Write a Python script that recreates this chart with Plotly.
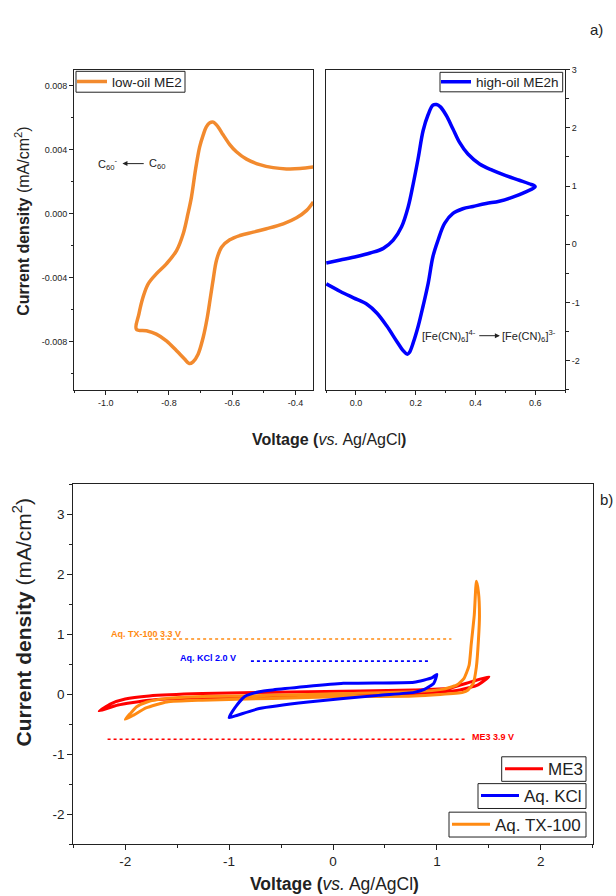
import plotly.graph_objects as go

FONT = "Liberation Sans, Arial, sans-serif"
INK = "#222222"

# ---------------- data: top-left, low-oil ME2 (C60) ----------------
me2_v = [-0.344, -0.386, -0.429, -0.471, -0.513, -0.555, -0.587, -0.608, -0.629, -0.645,
         -0.660, -0.671, -0.682, -0.692, -0.703, -0.713, -0.718, -0.729, -0.740, -0.755,
         -0.776, -0.808, -0.840, -0.866, -0.882, -0.895, -0.903,
         -0.871, -0.840, -0.808, -0.776, -0.750, -0.736, -0.724, -0.708, -0.692, -0.679,
         -0.669, -0.660, -0.650, -0.634, -0.608, -0.576, -0.534, -0.492, -0.439, -0.397,
         -0.365, -0.344]
me2_j = [0.00292, 0.00282, 0.00280, 0.00288, 0.00307, 0.00341, 0.00387, 0.00432, 0.00493, 0.00543,
         0.00572, 0.00568, 0.00543, 0.00491, 0.00418, 0.00313, 0.00251, 0.00104, 0.0, -0.00125,
         -0.00230, -0.00313, -0.00376, -0.00439, -0.00522, -0.00627, -0.00721,
         -0.00731, -0.00752, -0.00794, -0.00856, -0.00909, -0.00936, -0.00925, -0.00877, -0.00773, -0.00648,
         -0.00522, -0.00407, -0.00292, -0.00209, -0.00163, -0.00136, -0.00115, -0.00094, -0.00063, -0.00025,
         0.00021, 0.00073]

# ---------------- data: top-right, high-oil ME2h (ferricyanide) ----------------
me2h_v = [-0.099, -0.052, 0.003, 0.048, 0.092, 0.125, 0.153, 0.175, 0.192, 0.209, 0.225, 0.242,
          0.258, 0.270, 0.283, 0.303, 0.325, 0.347, 0.375, 0.414, 0.458, 0.502, 0.547, 0.580, 0.600,
          0.569, 0.525, 0.480, 0.436, 0.392, 0.358, 0.325, 0.297, 0.275, 0.258, 0.242, 0.225, 0.209,
          0.192, 0.179, 0.172, 0.159, 0.136, 0.103, 0.070, 0.037, -0.008, -0.052, -0.099]
me2h_j = [-0.32, -0.27, -0.21, -0.15, -0.07, 0.07, 0.30, 0.64, 1.04, 1.49, 1.95, 2.23,
          2.39, 2.40, 2.36, 2.21, 1.98, 1.75, 1.55, 1.38, 1.27, 1.18, 1.10, 1.04, 0.99,
          0.90, 0.81, 0.74, 0.70, 0.65, 0.61, 0.53, 0.36, 0.07, -0.21, -0.67, -1.06, -1.40,
          -1.69, -1.86, -1.89, -1.83, -1.66, -1.40, -1.18, -1.03, -0.92, -0.81, -0.68]

# ---------------- data: bottom, electrochemical windows ----------------
me3_v = [-2.25, -2.14, -2.0, -1.77, -1.26, -0.24, 0.78, 1.12, 1.32, 1.50,
         1.39, 1.22, 0.78, -0.24, -1.26, -1.77, -2.07, -2.25]
me3_j = [-0.28, -0.16, -0.08, -0.03, 0.01, 0.04, 0.07, 0.10, 0.20, 0.29,
         0.15, 0.07, 0.01, -0.03, -0.06, -0.10, -0.18, -0.28]

kcl_v = [-1.0, -0.95, -0.85, -0.71, -0.58, 0.10, 0.78, 0.95, 1.0,
         0.97, 0.88, 0.78, 0.44, -0.24, -0.71, -0.92, -1.0]
kcl_j = [-0.39, -0.24, -0.04, 0.04, 0.07, 0.18, 0.20, 0.27, 0.33,
         0.18, 0.08, 0.03, -0.02, -0.13, -0.24, -0.35, -0.39]

tx_v = [-2.0, -1.95, -1.89, -1.79, -1.60, -1.26, -0.58, 0.10, 0.78, 1.05, 1.19, 1.26, 1.31,
        1.33, 1.36, 1.38, 1.40, 1.41, 1.40, 1.38, 1.35, 1.30, 1.25, 0.78, 0.10, -0.58,
        -1.26, -1.60, -1.80, -1.92, -2.0]
tx_j = [-0.42, -0.32, -0.21, -0.13, -0.07, -0.04, -0.02, 0.01, 0.04, 0.08, 0.15, 0.26, 0.48,
        0.82, 1.32, 1.88, 1.70, 1.30, 0.90, 0.45, 0.18, 0.07, 0.03, -0.03, -0.04, -0.07,
        -0.10, -0.13, -0.23, -0.35, -0.42]

win_labels = ["Aq. TX-100 3.3 V", "Aq. KCl 2.0 V", "ME3 3.9 V"]
win_level = [0.92, 0.55, -0.75]
win_start = [-1.77, -0.79, -2.17]
win_end = [1.14, 0.94, 1.27]
win_label_x = [-2.16, -1.49, 1.32]
win_label_y = [1.01, 0.60, -0.72]

# tick labels
tl_x_vals = [-1.0, -0.8, -0.6, -0.4]
tl_x_text = ["-1.0", "-0.8", "-0.6", "-0.4"]
tl_y_vals = [0.008, 0.004, 0.0, -0.004, -0.008]
tl_y_text = ["0.008", "0.004", "0.000", "-0.004", "-0.008"]
tr_x_vals = [0.0, 0.2, 0.4, 0.6]
tr_x_text = ["0.0", "0.2", "0.4", "0.6"]
tr_y_vals = [3, 2, 1, 0, -1, -2]
tr_y_text = ["3", "2", "1", "0", "-1", "-2"]
b_x_vals = [-2, -1, 0, 1, 2]
b_x_text = ["-2", "-1", "0", "1", "2"]
b_y_vals = [3, 2, 1, 0, -1, -2]
b_y_text = ["3", "2", "1", "0", "-1", "-2"]

C_ORANGE_TOP = "#F28A2E"
C_ORANGE = "#FF8A12"
C_RED = "#FF0000"
C_BLUE = "#0000FF"

W, H = 616, 896


def px(x):
    return x / W


def py(y):
    return 1 - y / H


fig = go.Figure()

fig.add_trace(go.Scatter(x=me2_v, y=me2_j, mode="lines", name="low-oil ME2",
                         line=dict(color=C_ORANGE_TOP, width=3.5, shape="spline", smoothing=1.0),
                         xaxis="x", yaxis="y", legend="legend"))
fig.add_trace(go.Scatter(x=me2h_v, y=me2h_j, mode="lines", name="high-oil ME2h",
                         line=dict(color=C_BLUE, width=3.5, shape="spline", smoothing=1.0),
                         xaxis="x2", yaxis="y2", legend="legend2"))

fig.add_trace(go.Scatter(x=me3_v, y=me3_j, mode="lines", name="ME3",
                         line=dict(color=C_RED, width=3, shape="spline", smoothing=0.5),
                         xaxis="x3", yaxis="y3", legend="legend3"))
fig.add_trace(go.Scatter(x=tx_v, y=tx_j, mode="lines", name="Aq. TX-100",
                         line=dict(color=C_ORANGE, width=3, shape="spline", smoothing=0.5),
                         xaxis="x3", yaxis="y3", legend="legend5"))
fig.add_trace(go.Scatter(x=kcl_v, y=kcl_j, mode="lines", name="Aq. KCl",
                         line=dict(color=C_BLUE, width=3, shape="spline", smoothing=0.5),
                         xaxis="x3", yaxis="y3", legend="legend4"))

win_colors = [C_ORANGE, C_BLUE, C_RED]
for i in range(3):
    fig.add_trace(go.Scatter(x=[win_start[i], win_end[i]], y=[win_level[i], win_level[i]],
                             mode="lines", showlegend=False, hoverinfo="skip",
                             line=dict(color=win_colors[i], width=1.6, dash="dot"),
                             xaxis="x3", yaxis="y3"))


def axis(**kw):
    d = dict(showline=True, linecolor=INK, linewidth=1, mirror=True, ticks="outside",
             ticklen=4, tickwidth=1, tickcolor=INK, showgrid=False, zeroline=False,
             tickfont=dict(size=9, color=INK, family=FONT), tickmode="array")
    d.update(kw)
    return d


TOP_Y = [py(387), py(65)]
fig.update_layout(
    width=W, height=H, margin=dict(l=0, r=0, t=0, b=0),
    paper_bgcolor="white", plot_bgcolor="white",
    font=dict(family=FONT, color=INK),
    xaxis=axis(domain=[px(74), px(313)], range=[-1.1, -0.345], anchor="y",
               tickvals=tl_x_vals, ticktext=tl_x_text,
               minor=dict(ticks="outside", ticklen=2.5, tickcolor=INK, tick0=-1.1, dtick=0.1)),
    yaxis=axis(domain=TOP_Y, range=[-0.011, 0.009], anchor="x",
               tickvals=tl_y_vals, ticktext=tl_y_text,
               minor=dict(ticks="outside", ticklen=2.5, tickcolor=INK, tick0=0.0, dtick=0.002)),
    xaxis2=axis(domain=[px(326), px(565)], range=[-0.1, 0.7], anchor="y2",
                tickvals=tr_x_vals, ticktext=tr_x_text,
                minor=dict(ticks="outside", ticklen=2.5, tickcolor=INK, tick0=0.0, dtick=0.1)),
    yaxis2=axis(domain=TOP_Y, range=[-2.5, 3], anchor="x2", side="right",
                tickvals=tr_y_vals, ticktext=tr_y_text,
                minor=dict(ticks="outside", ticklen=2.5, tickcolor=INK, tick0=0, dtick=0.5)),
    xaxis3=axis(domain=[px(73.3), px(592.7)], range=[-2.5, 2.5], anchor="y3",
                tickvals=b_x_vals, ticktext=b_x_text, ticklen=5,
                tickfont=dict(size=13.5, color=INK, family=FONT),
                minor=dict(ticks="outside", ticklen=3, tickcolor=INK, tick0=0, dtick=0.5)),
    yaxis3=axis(domain=[py(844), py(481.7)], range=[-2.5, 3.5], anchor="x3",
                tickvals=b_y_vals, ticktext=b_y_text, ticklen=5,
                tickfont=dict(size=13.5, color=INK, family=FONT),
                minor=dict(ticks="outside", ticklen=3, tickcolor=INK, tick0=0, dtick=0.5)),
)

# legend frames (drawn as shapes so that their sizes match the reference)
legend_boxes = [
    (76, 66.7, 185, 87.7),
    (440, 67.7, 562.7, 87.3),
    (501.7, 756, 586, 780.7),
    (478, 783, 586, 808),
    (449, 811.7, 586, 836.7),
]
shapes = []
for (x0, y0, x1, y1) in legend_boxes:
    shapes.append(dict(type="rect", xref="paper", yref="paper",
                       x0=px(x0), x1=px(x1), y0=py(y1), y1=py(y0),
                       line=dict(color=INK, width=1), fillcolor="white", layer="above"))
fig.update_layout(shapes=shapes)

leg_common = dict(bgcolor="rgba(0,0,0,0)", borderwidth=0, tracegroupgap=0,
                  xanchor="left", yanchor="middle")
fig.update_layout(
    legend=dict(x=px(72), y=py(77.2), itemwidth=30,
                font=dict(size=13.5, family=FONT, color=INK), **leg_common),
    legend2=dict(x=px(436), y=py(77.5), itemwidth=30,
                 font=dict(size=13.5, family=FONT, color=INK), **leg_common),
    legend3=dict(x=px(500), y=py(768.4), itemwidth=38,
                 font=dict(size=17, family=FONT, color=INK), **leg_common),
    legend4=dict(x=px(476), y=py(795.5), itemwidth=38,
                 font=dict(size=17, family=FONT, color=INK), **leg_common),
    legend5=dict(x=px(447), y=py(824.2), itemwidth=38,
                 font=dict(size=17, family=FONT, color=INK), **leg_common),
)

ann = []
# window labels
for i in range(3):
    ann.append(dict(x=win_label_x[i], y=win_label_y[i], xref="x3", yref="y3",
                    text="<b>" + win_labels[i] + "</b>", showarrow=False,
                    xanchor="left", yanchor="middle",
                    font=dict(size=9, color=win_colors[i], family=FONT)))

# C60 reaction
ann.append(dict(x=-0.947, y=0.00313, ax=-0.875, ay=0.00313, xref="x", yref="y",
                axref="x", ayref="y", text="", showarrow=True, arrowhead=2,
                arrowsize=1, arrowwidth=1, arrowcolor=INK))
ann.append(dict(x=-0.955, y=0.00313, xref="x", yref="y", xanchor="right", yanchor="middle",
                text="C<sub>60</sub><sup>-</sup>", showarrow=False,
                font=dict(size=11, color=INK, family=FONT)))
ann.append(dict(x=-0.870, y=0.00313, xref="x", yref="y", xanchor="left", yanchor="middle",
                text="C<sub>60</sub>", showarrow=False,
                font=dict(size=11, color=INK, family=FONT)))

# ferricyanide reaction
ann.append(dict(x=0.482, y=-1.57, ax=0.408, ay=-1.57, xref="x2", yref="y2",
                axref="x2", ayref="y2", text="", showarrow=True, arrowhead=2,
                arrowsize=1, arrowwidth=1, arrowcolor=INK))
ann.append(dict(x=0.409, y=-1.57, xref="x2", yref="y2", xanchor="right", yanchor="middle",
                text="[Fe(CN)<sub>6</sub>]<sup>4-</sup>", showarrow=False,
                font=dict(size=11, color=INK, family=FONT)))
ann.append(dict(x=0.484, y=-1.57, xref="x2", yref="y2", xanchor="left", yanchor="middle",
                text="[Fe(CN)<sub>6</sub>]<sup>3-</sup>", showarrow=False,
                font=dict(size=11, color=INK, family=FONT)))

# axis titles
ytitle = "<b>Current density</b> (mA/cm<sup>2</sup>)"
xtitle = "<b>Voltage (</b><i>vs.</i> Ag/AgCl<b>)</b>"
ann.append(dict(x=px(22), y=py(218), xref="paper", yref="paper", text=ytitle,
                textangle=-90, showarrow=False, xanchor="center", yanchor="middle",
                font=dict(size=16, color=INK, family=FONT)))
ann.append(dict(x=px(22), y=py(621), xref="paper", yref="paper", text=ytitle,
                textangle=-90, showarrow=False, xanchor="center", yanchor="middle",
                font=dict(size=21, color=INK, family=FONT)))
ann.append(dict(x=px(329), y=py(437), xref="paper", yref="paper", text=xtitle,
                showarrow=False, xanchor="center", yanchor="middle",
                font=dict(size=16, color=INK, family=FONT)))
ann.append(dict(x=px(334), y=py(884), xref="paper", yref="paper", text=xtitle,
                showarrow=False, xanchor="center", yanchor="middle",
                font=dict(size=17.5, color=INK, family=FONT)))

# panel labels
ann.append(dict(x=px(596), y=py(25), xref="paper", yref="paper", text="a)",
                showarrow=False, xanchor="center", yanchor="middle",
                font=dict(size=15, color=INK, family=FONT)))
ann.append(dict(x=px(606), y=py(497), xref="paper", yref="paper", text="b)",
                showarrow=False, xanchor="center", yanchor="middle",
                font=dict(size=15, color=INK, family=FONT)))

fig.update_layout(annotations=ann)

fig.write_html("out.html")
